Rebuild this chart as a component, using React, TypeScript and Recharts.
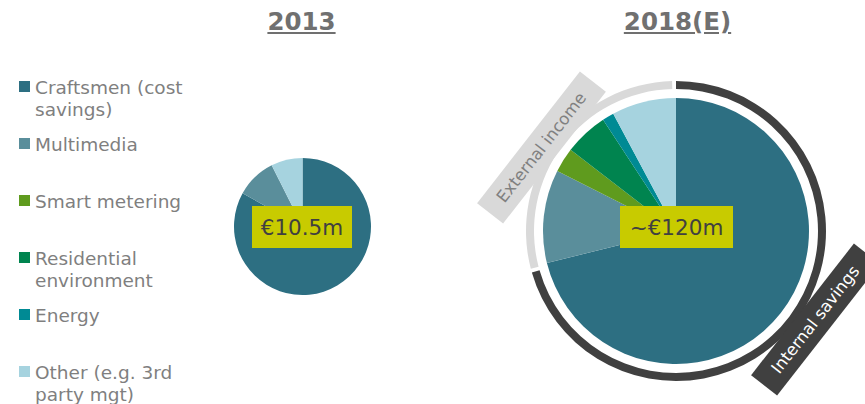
import { PieChart, Pie, Cell } from "recharts";

// categories and colours shared by both pies
const categories = [
  "Craftsmen (cost savings)",
  "Multimedia",
  "Smart metering",
  "Residential environment",
  "Energy",
  "Other (e.g. 3rd party mgt)",
];
const colors = ["#2d6f82", "#5a8e9b", "#5f9b1e", "#00844f", "#008a94", "#a6d3df"];

// €m
const values2013 = [8.72, 1.0, 0, 0, 0, 0.78];
const values2018 = [85.5, 13.6, 3.6, 6.4, 1.7, 9.4];

const years = ["2013", "2018(E)"];
const totals = ["€10.5m", "~€120m"];
const ringLabels = ["Internal savings", "External income"];
const ringColors = ["#404040", "#d9d9d9"];

const FONT = "'DejaVu Sans', Verdana, sans-serif";

const data2013 = categories.map((name, i) => ({ name, value: values2013[i] }));
const data2018 = categories.map((name, i) => ({ name, value: values2018[i] }));
const ringData = [
  { name: ringLabels[0], value: values2018[0] },
  { name: ringLabels[1], value: values2018.slice(1).reduce((a, b) => a + b, 0) },
];

export default function App() {
  return (
    <div
      style={{
        position: "absolute",
        left: 0,
        top: 0,
        width: 865,
        height: 404,
        overflow: "hidden",
        background: "#fff",
        fontFamily: FONT,
      }}
    >
      <PieChart width={865} height={404} margin={{ top: 0, right: 0, bottom: 0, left: 0 }}>
        <Pie
          data={data2013}
          dataKey="value"
          cx={302.5}
          cy={226.5}
          outerRadius={68.5}
          startAngle={90}
          endAngle={-270}
          stroke="none"
          isAnimationActive={false}
        >
          {data2013.map((d, i) => (
            <Cell key={d.name} fill={colors[i]} />
          ))}
        </Pie>
        <Pie
          data={data2018}
          dataKey="value"
          cx={676}
          cy={231}
          outerRadius={133}
          startAngle={90}
          endAngle={-270}
          stroke="none"
          isAnimationActive={false}
        >
          {data2018.map((d, i) => (
            <Cell key={d.name} fill={colors[i]} />
          ))}
        </Pie>
        <Pie
          data={ringData}
          dataKey="value"
          cx={676}
          cy={231}
          innerRadius={142}
          outerRadius={150}
          startAngle={90}
          endAngle={-270}
          paddingAngle={1.5}
          stroke="none"
          isAnimationActive={false}
        >
          {ringData.map((d, i) => (
            <Cell key={d.name} fill={ringColors[i]} />
          ))}
        </Pie>
      </PieChart>

      {/* titles */}
      {years.map((y, i) => (
        <div
          key={y}
          style={{
            position: "absolute",
            left: [301.5, 677.5][i] - 80,
            width: 160,
            top: 7,
            textAlign: "center",
            fontSize: 24.5,
            fontWeight: "bold",
            color: "#707070",
            textDecoration: "underline",
            lineHeight: "29px",
          }}
        >
          {y}
        </div>
      ))}

      {/* legend */}
      {categories.map((c, i) => (
        <div
          key={c}
          style={{
            position: "absolute",
            left: 35,
            top: 77 + i * 57,
            width: 155,
            fontSize: 18.5,
            lineHeight: "22px",
            color: "#7f7f7f",
          }}
        >
          <div
            style={{
              position: "absolute",
              left: -16,
              top: 4,
              width: 11,
              height: 11,
              background: colors[i],
            }}
          />
          {c}
        </div>
      ))}

      {/* totals */}
      {totals.map((t, i) => (
        <div
          key={t}
          style={{
            position: "absolute",
            left: [252, 620][i],
            top: 206,
            width: [100, 113][i],
            height: 42,
            background: "#c8cb00",
            color: "#404040",
            fontSize: 21.5,
            display: "flex",
            alignItems: "center",
            justifyContent: "center",
          }}
        >
          {t}
        </div>
      ))}

      {/* ring labels */}
      {ringLabels.map((r, i) => (
        <div
          key={r}
          style={{
            position: "absolute",
            left: [815, 541][i] - 83.5,
            top: [319, 147][i] - 16.5,
            width: 167,
            height: 33,
            background: ringColors[i],
            color: i === 0 ? "#ffffff" : "#808080",
            fontSize: 16.5,
            display: "flex",
            alignItems: "center",
            justifyContent: "center",
            transform: "rotate(-52deg)",
          }}
        >
          {r}
        </div>
      ))}
    </div>
  );
}
